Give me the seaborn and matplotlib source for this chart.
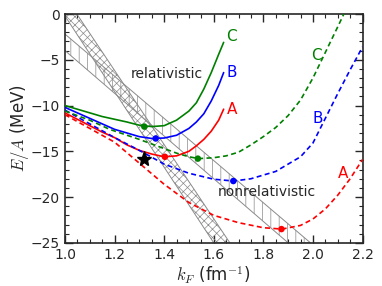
import matplotlib

matplotlib.use("Agg")

import matplotlib.pyplot as plt
import pandas as pd
import seaborn as sns
from matplotlib.ticker import MultipleLocator

# relativistic (solid) curves, models A, B, C
rel_k = [1.00, 1.05, 1.10, 1.15, 1.20, 1.25, 1.30, 1.35, 1.40, 1.45, 1.50, 1.53, 1.56, 1.59, 1.62, 1.64]
rel_A = [-10.8, -11.5, -12.2, -12.9, -13.5, -14.3, -14.9, -15.3, -15.6, -15.5, -15.0, -14.4, -13.7, -12.8, -11.6, -10.4]
rel_B = [-10.2, -10.8, -11.4, -12.0, -12.6, -13.0, -13.4, -13.6, -13.55, -13.25, -12.5, -11.8, -10.9, -9.5, -7.8, -6.4]
rel_C = [-10.0, -10.4, -10.8, -11.2, -11.5, -11.8, -12.15, -12.3, -12.2, -11.6, -10.6, -9.7, -8.2, -6.4, -4.4, -3.1]

# nonrelativistic (dashed) curves
nr_k_A = [1.00, 1.10, 1.20, 1.30, 1.40, 1.50, 1.60, 1.70, 1.80, 1.875, 1.95, 2.00, 2.05, 2.10, 2.15, 2.20]
nr_A = [-11.0, -12.5, -14.0, -16.3, -18.6, -20.6, -22.0, -22.8, -23.35, -23.5, -23.1, -22.4, -21.3, -19.8, -18.0, -15.9]
nr_k_B = [1.00, 1.10, 1.20, 1.30, 1.40, 1.50, 1.60, 1.68, 1.75, 1.85, 1.95, 2.00, 2.05, 2.10, 2.15, 2.20]
nr_B = [-10.5, -12.0, -13.5, -14.9, -16.4, -17.4, -18.05, -18.25, -18.0, -17.2, -15.6, -14.1, -11.4, -8.7, -6.1, -3.6]
nr_k_C = [1.00, 1.10, 1.18, 1.30, 1.38, 1.45, 1.50, 1.54, 1.60, 1.65, 1.70, 1.75, 1.80, 1.85, 1.90, 1.95, 2.00, 2.05, 2.10, 2.13]
nr_C = [-10.6, -11.6, -12.6, -13.7, -14.5, -15.2, -15.6, -15.8, -15.7, -15.5, -15.1, -14.3, -13.4, -12.4, -11.1, -9.4, -7.0, -4.2, -1.4, 0.3]

# saturation points
rel_sat_k = [1.403, 1.366, 1.32]
rel_sat_e = [-15.6, -13.6, -12.3]
nr_sat_k = [1.873, 1.679, 1.536]
nr_sat_e = [-23.5, -18.25, -15.8]
empirical_k = [1.32]
empirical_e = [-15.85]

# Coester bands (edge x at E/A = 0 and -25)
band_y = [0.0, -25.0]
rel_band_left = [0.995, 1.60]
rel_band_right = [1.048, 1.665]
nr_band_left = [0.829, 1.90]
nr_band_right = [0.905, 1.99]

COLORS = {"A": "#ff0000", "B": "#0000ff", "C": "#008000"}

sns.set_style("ticks")
plt.rcParams["font.family"] = ["DejaVu Sans"]
plt.rcParams["mathtext.fontset"] = "cm"
plt.rcParams["hatch.linewidth"] = 0.5

fig = plt.figure(figsize=(3.82, 2.86), dpi=100)
ax = fig.add_axes([0.170, 0.151, 0.779, 0.800])

ax.fill_betweenx(band_y, rel_band_left, rel_band_right, facecolor="none",
                 edgecolor="#8a8a8a", hatch="xxxx", linewidth=0.7, zorder=1)
ax.fill_betweenx(band_y, nr_band_left, nr_band_right, facecolor="none",
                 edgecolor="#8a8a8a", hatch="||", linewidth=0.7, zorder=1)

rel = pd.DataFrame({"k": rel_k * 3, "E": rel_A + rel_B + rel_C,
                    "model": ["A"] * len(rel_k) + ["B"] * len(rel_k) + ["C"] * len(rel_k)})
nr = pd.DataFrame({"k": nr_k_A + nr_k_B + nr_k_C, "E": nr_A + nr_B + nr_C,
                   "model": ["A"] * len(nr_k_A) + ["B"] * len(nr_k_B) + ["C"] * len(nr_k_C)})

sns.lineplot(data=rel, x="k", y="E", hue="model", palette=COLORS, linewidth=1.2,
             legend=False, ax=ax, zorder=3)
sns.lineplot(data=nr, x="k", y="E", hue="model", palette=COLORS, linewidth=1.2,
             legend=False, ax=ax, zorder=3)
for line in ax.lines[3:6]:
    line.set_linestyle((0, (3, 2)))

sns.scatterplot(x=rel_sat_k, y=rel_sat_e, hue=["A", "B", "C"], palette=COLORS, s=22,
                edgecolor="none", legend=False, ax=ax, zorder=4)
sns.scatterplot(x=nr_sat_k, y=nr_sat_e, hue=["A", "B", "C"], palette=COLORS, s=22,
                edgecolor="none", legend=False, ax=ax, zorder=4)
ax.plot(empirical_k, empirical_e, marker="*", color="black", markersize=11,
        linestyle="none", zorder=5)

ax.text(1.41, -6.5, "relativistic", ha="center", va="center", fontsize=10)
ax.text(1.815, -19.4, "nonrelativistic", ha="center", va="center", fontsize=10)
for lab, y in zip(["C", "B", "A"], [-2.5, -6.4, -10.4]):
    ax.text(1.672, y, lab, color=COLORS[lab], ha="center", va="center", fontsize=11)
for lab, x, y in zip(["C", "B", "A"], [2.015, 2.02, 2.122], [-4.5, -11.4, -17.4]):
    ax.text(x, y, lab, color=COLORS[lab], ha="center", va="center", fontsize=11)

ax.set_xlim(1.0, 2.2)
ax.set_ylim(-25, 0)
ax.xaxis.set_major_locator(MultipleLocator(0.2))
ax.xaxis.set_minor_locator(MultipleLocator(0.05))
ax.yaxis.set_major_locator(MultipleLocator(5))
ax.yaxis.set_minor_locator(MultipleLocator(1))
ax.tick_params(which="both", direction="in", top=True, right=True, labelsize=10)
ax.tick_params(which="major", length=6, width=1.0)
ax.tick_params(which="minor", length=3, width=0.8)
for sp in ax.spines.values():
    sp.set_linewidth(1.2)

ax.set_xlabel(r"$k_F$ (fm$^{-1}$)", fontsize=12, labelpad=2)
ax.set_ylabel(r"$E/A$ (MeV)", fontsize=12, labelpad=0)

fig.savefig("out.png", dpi=100)
